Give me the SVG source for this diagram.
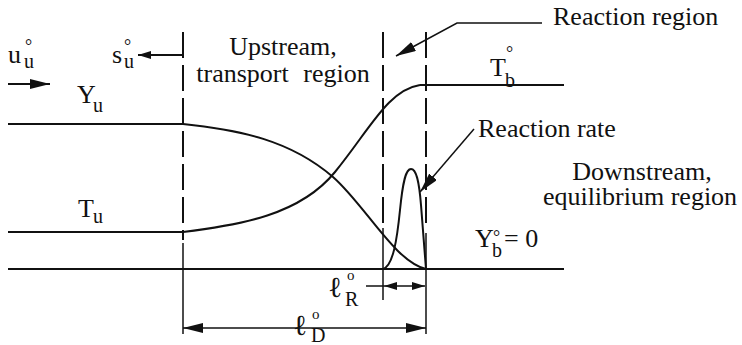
<svg xmlns="http://www.w3.org/2000/svg" width="742" height="345" viewBox="0 0 742 345">
<style>
text{font-family:"Liberation Serif","Times New Roman",serif;fill:#111;}
.t{font-size:26px;}
.ell{font-size:29px;}
.sub{font-size:20px;}
.deg{font-size:18px;}
.sm{font-size:15px;}
.ln{stroke:#111;stroke-width:2;fill:none;}
.dash{stroke:#111;stroke-width:2;fill:none;stroke-dasharray:26 7;}
.thin{stroke:#111;stroke-width:1.5;fill:none;}
</style>
<defs>
<marker id="big" markerUnits="userSpaceOnUse" markerWidth="20" markerHeight="10" refX="20" refY="5" orient="auto-start-reverse">
<path d="M0,0 L20,5 L0,10 z" fill="#111"/>
</marker>
<marker id="small" markerUnits="userSpaceOnUse" markerWidth="13" markerHeight="8" refX="13" refY="4" orient="auto-start-reverse">
<path d="M0,0 L13,4 L0,8 z" fill="#111"/>
</marker>
</defs>
<rect width="742" height="345" fill="#fff"/>

<g id="boundaries">
<line class="dash" x1="183" y1="32" x2="183" y2="240"/>
<line class="thin" x1="183" y1="243" x2="183" y2="334"/>
<line class="dash" x1="383" y1="32" x2="383" y2="225"/>
<line class="thin" x1="383" y1="228" x2="383" y2="300"/>
<line class="dash" x1="426" y1="32" x2="426" y2="230"/>
<line class="thin" x1="426" y1="233" x2="426" y2="334"/>
</g>

<g id="profiles">
<line class="ln" x1="8" y1="124" x2="183" y2="124"/>
<line class="ln" x1="8" y1="232" x2="183" y2="232"/>
<line class="ln" x1="8" y1="269" x2="564" y2="269"/>
<line class="ln" x1="420" y1="85" x2="564" y2="85"/>
<path id="T-curve" class="ln" d="M183,232 C240,225 300,215 335,172 S388,90 420,85"/>
<path id="Y-curve" class="ln" d="M183,124 C240,130 290,140 333,177 C365,205 395,262 426,269"/>
<path id="rate-curve" class="ln" d="M383,269 C393,266 397,240 400,210 C403,180 406,169 411,169 C416,169 419,180 421,205 C423,230 425,255 426,269"/>
</g>

<g id="connectors">
<line class="ln" x1="8" y1="84" x2="50" y2="84" marker-end="url(#big)"/>
<line class="ln" x1="182" y1="55" x2="138" y2="55" marker-end="url(#small)"/>
<polyline class="thin" points="542,23 457,23 396,56" marker-end="url(#big)"/>
<polyline class="thin" points="474,129 420,192" marker-end="url(#big)"/>
<line class="thin" x1="183" y1="328" x2="426" y2="328" marker-start="url(#big)" marker-end="url(#big)"/>
<line class="thin" x1="366" y1="286" x2="384" y2="286"/>
<line class="thin" x1="384" y1="286" x2="425" y2="286" marker-start="url(#small)" marker-end="url(#small)"/>
</g>

<g id="label-uu">
<text class="t" x="8" y="63">u</text>
<text class="deg" x="25" y="52">°</text>
<text class="sub" x="24" y="68">u</text>
</g>
<g id="label-su">
<text class="t" x="112" y="63">s</text>
<text class="deg" x="124" y="52">°</text>
<text class="sub" x="124" y="68">u</text>
</g>
<g id="label-Yu">
<text class="t" x="77" y="103">Y</text>
<text class="sub" x="93" y="112">u</text>
</g>
<g id="label-Tu">
<text class="t" x="78" y="217">T</text>
<text class="sub" x="93" y="223">u</text>
</g>
<g id="label-Tb">
<text class="t" x="490" y="76">T</text>
<text class="deg" x="506" y="59">°</text>
<text class="sub" x="505" y="87">b</text>
</g>
<g id="label-Yb">
<text class="t" x="475" y="247">Y</text>
<text class="deg" x="493" y="243">°</text>
<text class="sub" x="492" y="257">b</text>
<text class="t" x="504" y="247">= 0</text>
</g>
<g id="label-upstream">
<text class="t" x="283" y="55" text-anchor="middle">Upstream,</text>
<text class="t" x="283" y="82" text-anchor="middle" word-spacing="8">transport region</text>
</g>
<g id="label-reaction-region">
<text class="t" x="553" y="25">Reaction region</text>
</g>
<g id="label-reaction-rate">
<text class="t" x="478" y="137">Reaction rate</text>
</g>
<g id="label-downstream">
<text class="t" x="642" y="180" text-anchor="middle">Downstream,</text>
<text class="t" x="640" y="205" text-anchor="middle">equilibrium region</text>
</g>
<g id="label-lR">
<text class="ell" x="328" y="297">ℓ</text>
<text class="sm" x="347" y="280">o</text>
<text class="sub" x="345" y="306">R</text>
</g>
<g id="label-lD">
<text class="ell" x="293" y="335">ℓ</text>
<text class="sm" x="312" y="319">o</text>
<text class="sub" x="311" y="342">D</text>
</g>
</svg>
